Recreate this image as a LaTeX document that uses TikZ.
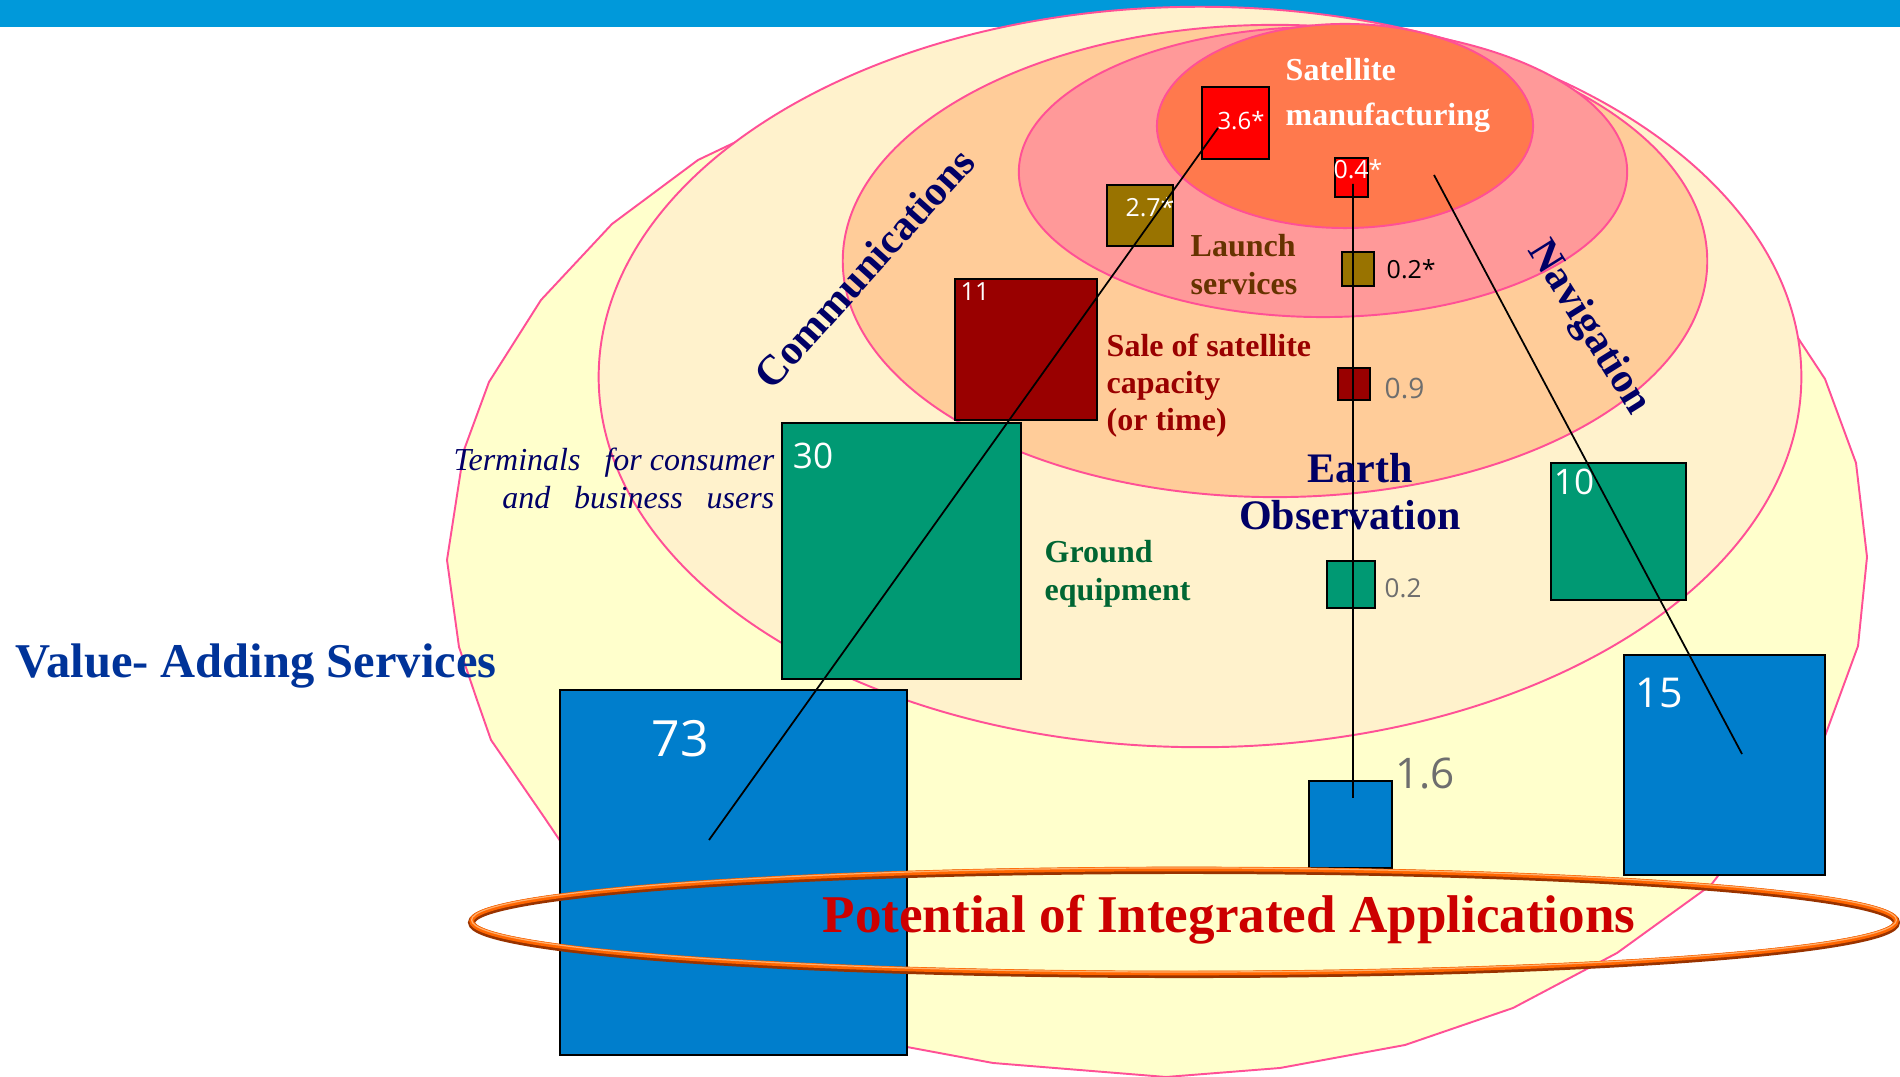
\documentclass[tikz,border=0pt]{standalone}
\usepackage{fontspec}
\setmainfont{Liberation Serif}
\newfontfamily\numfont{Open Sans}
\usetikzlibrary{positioning}

\definecolor{topbar}{RGB}{0,153,218}
\definecolor{outerfill}{RGB}{255,255,204}
\definecolor{cream}{RGB}{255,242,204}
\definecolor{peach}{RGB}{255,204,153}
\definecolor{salmon}{RGB}{255,153,153}
\definecolor{satorange}{RGB}{255,121,77}
\definecolor{rim}{RGB}{255,80,150}
\definecolor{boxred}{RGB}{255,0,0}
\definecolor{boxolive}{RGB}{153,115,0}
\definecolor{boxdkred}{RGB}{153,0,0}
\definecolor{boxgreen}{RGB}{0,153,115}
\definecolor{boxblue}{RGB}{0,126,204}
\definecolor{navytext}{RGB}{0,0,102}
\definecolor{vablue}{RGB}{0,51,153}
\definecolor{launchbrown}{RGB}{102,51,0}
\definecolor{gndgreen}{RGB}{0,102,51}
\definecolor{potred}{RGB}{204,0,0}
\definecolor{numgrey}{RGB}{110,110,110}
\definecolor{ringcol}{RGB}{255,102,0}
\definecolor{ringshade}{RGB}{153,51,0}
\definecolor{ringlight}{RGB}{255,175,110}

\begin{document}
\begin{tikzpicture}[x=0.01cm,y=-0.01cm]
        \tikzset{layer/.style={draw=rim, line width=0.55pt},
        sq/.style={draw=black, rectangle, line width=0.6pt, inner sep=0pt, outer sep=0pt},
        num/.style={inner sep=0pt, text=white, font=\numfont\fontsize{7.1}{8}\selectfont},
        lbl/.style={inner sep=0pt, align=left, font=\bfseries\fontsize{9.1}{10.8}\selectfont},
        sector/.style={inner sep=0pt, text=navytext, font=\bfseries\fontsize{11.95}{13.4}\selectfont},
        link/.style={draw=black, line width=0.5pt},
        }
        \useasboundingbox (0,0) rectangle (1900,1077);
        \fill[topbar] (0,0) rectangle (1900,27);

%% layers
        \filldraw[layer, fill=outerfill] (1200,60) -- (740,140) -- (698,160) -- (612,224) -- (541,300)
            -- (489,382) -- (464,450) -- (447,560) -- (459,647) -- (477,700) -- (491,740) -- (544,817)
            -- (600,900) -- (800,1040) -- (907,1047) -- (993,1063) -- (1166,1077) -- (1280,1068)
            -- (1405,1045) -- (1513,1008) -- (1617,953) -- (1711,885) -- (1825,736) -- (1858,646)
            -- (1867,557) -- (1856,463) -- (1825,379) -- (1798,338) -- (1700,200) -- cycle;
        \filldraw[layer, fill=cream] (1200,377) ellipse [x radius=6.01cm, y radius=3.70cm];
        \filldraw[layer, fill=peach] (1275,261) ellipse [x radius=4.32cm, y radius=2.36cm];
        \filldraw[layer, fill=salmon] (1323,172) ellipse [x radius=3.04cm, y radius=1.45cm];
        \filldraw[layer, fill=satorange] (1345,126) ellipse [x radius=1.88cm, y radius=1.02cm];

%% value boxes
        \node[sq, fill=boxred, minimum width=0.67cm, minimum height=0.72cm] (b36) at (1235.5,123) {};
        \node[sq, fill=boxred, minimum width=0.33cm, minimum height=0.39cm] (b04) at (1351.5,177.5) {};
        \node[sq, fill=boxolive, minimum width=0.66cm, minimum height=0.61cm] (b27) at (1140,215.5) {};
        \node[sq, fill=boxolive, minimum width=0.32cm, minimum height=0.34cm] (b02s) at (1358,269) {};
        \node[sq, fill=boxdkred, minimum width=1.42cm, minimum height=1.41cm] (b11) at (1026,349.5) {};
        \node[sq, fill=boxdkred, minimum width=0.32cm, minimum height=0.32cm] (b09) at (1354,384) {};
        \node[sq, fill=boxgreen, minimum width=2.39cm, minimum height=2.56cm] (b30) at (901.5,551) {};
        \node[sq, fill=boxgreen, minimum width=1.35cm, minimum height=1.37cm] (b10) at (1618.5,531.5) {};
        \node[sq, fill=boxgreen, minimum width=0.48cm, minimum height=0.47cm] (b02) at (1351,584.5) {};
        \node[sq, fill=boxblue, minimum width=2.01cm, minimum height=2.20cm] (b15) at (1724.5,765) {};
        \node[sq, fill=boxblue, minimum width=0.83cm, minimum height=0.87cm] (b16) at (1350.5,824.5) {};
        \node[sq, fill=boxblue, minimum width=3.47cm, minimum height=3.65cm] (b73) at (733.5,872.5) {};

        \node[num, font=\numfont\fontsize{14.2}{16}\selectfont] (n73) at (680,739) {73};
        \node[num, font=\numfont\fontsize{10}{12}\selectfont] (n30) at (813,456) {30};
        \node[num, font=\numfont\fontsize{11.7}{13}\selectfont] (n15) at (1659,693) {15};
        \node[num, font=\numfont\fontsize{10}{12}\selectfont] (n10) at (1574,482) {10};
        \node[num] (n11) at (975,292) {11};
        \node[num, font=\numfont\fontsize{6.8}{8}\selectfont] (n36) at (1241,121) {3.6*};
        \node[num] (n04) at (1358,169) {0.4*};
        \node[num] (n27) at (1150,207) {2.7*};
        \node[num, text=black, right=0.12cm of b02s] (n02s) {0.2*};
        \node[num, text=numgrey, font=\numfont\fontsize{8}{9}\selectfont, right=0.14cm of b09, yshift=-0.05cm] (n09) {0.9};
        \node[num, text=numgrey, font=\numfont\fontsize{7.4}{9}\selectfont, right=0.09cm of b02, yshift=-0.035cm] (n02) {0.2};
        \node[num, text=numgrey, font=\numfont\fontsize{12}{14}\selectfont] (n16) at (1425,774) {1.6};

%% paths
        \coordinate (c36) at (1218,128);
        \coordinate (c73) at (709,840);
        \coordinate (c04) at (1353,184);
        \coordinate (c16) at (1353,798);
        \coordinate (cnav) at (1434,175);
        \coordinate (c15) at (1742,754);
        \path[link] (c36) -- (c73)
                    (c04) -- (c16)
                    (cnav) -- (c15);

%% integration ring
        \draw[ringshade, line width=2pt] (1184,922.5) ellipse [x radius=7.12cm, y radius=0.52cm];
        \draw[ringcol, line width=1.3pt] (1184,921) ellipse [x radius=7.12cm, y radius=0.52cm];
        \draw[ringlight, line width=0.35pt] (1184,920) ellipse [x radius=7.12cm, y radius=0.52cm];

%% captions
        \node[lbl, text=white, anchor=west, font=\bfseries\fontsize{9.1}{12.8}\selectfont] (satman) at (1285,95) {Satellite\\manufacturing};
        \node[lbl, text=launchbrown, anchor=west] (launch) at (1190,265) {Launch\\services};
        \node[lbl, text=boxdkred, anchor=west, font=\bfseries\fontsize{9.1}{10.5}\selectfont] (capacity) at (1106,386) {Sale of satellite\\capacity\\(or time)};
        \node[lbl, text=gndgreen, anchor=west] (ground) at (1044,573.5) {Ground\\equipment};
        \node[sector, align=center] (earthobs) at (1350,492) {\hspace*{0.2cm}Earth\\Observation};
        \node[sector, rotate=48] (comms) at (864,268) {Communications};
        \node[sector, rotate=-58] (navig) at (1588,328) {Navigation};
        \node[inner sep=0pt, text=navytext, align=right, anchor=east, font=\itshape\fontsize{9.1}{10.8}\selectfont] (terminals) at (775,478) {Terminals~~~for consumer\\and~~~business~~~users};
        \node[inner sep=0pt, text=vablue, anchor=base west, font=\bfseries\fontsize{13.8}{15}\selectfont] (vas) at (15,678) {Value- Adding Services};
        \node[inner sep=0pt, text=potred, anchor=base west, font=\bfseries\fontsize{15.1}{17}\selectfont] (potential) at (822,933) {Potential of Integrated Applications};
\end{tikzpicture}
\end{document}
